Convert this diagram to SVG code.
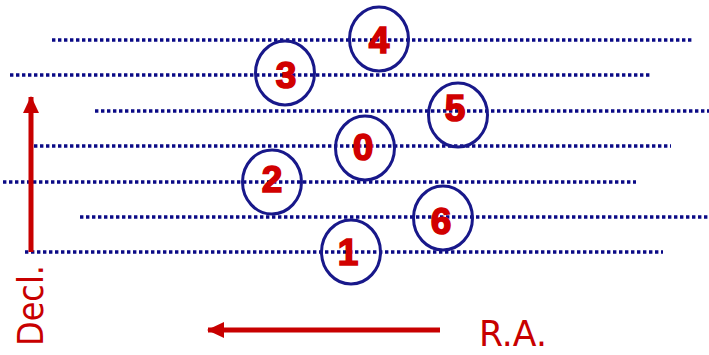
<svg xmlns="http://www.w3.org/2000/svg" width="709" height="355" viewBox="0 0 709 355">
<style>
.dot{stroke:#0a0a86;stroke-width:3.4;stroke-dasharray:3.4 2.6;fill:none}
.ring{fill:none;stroke:#18188a;stroke-width:3}
.num{font-family:"Liberation Sans",Arial,sans-serif;font-weight:bold;font-size:37px;fill:#d10000;stroke:#d10000;stroke-width:1.6;text-anchor:middle}
.lab{font-family:"DejaVu Sans","Liberation Sans",sans-serif;font-size:36px;fill:#c80000}
.arr{stroke:#c80000;stroke-width:5;fill:none}
</style>
<defs>
<marker id="ah" markerWidth="18" markerHeight="18" viewBox="0 0 18 18" refX="16" refY="9" orient="auto" markerUnits="userSpaceOnUse">
<path d="M0,1 L17,9 L0,17 Z" fill="#c80000"/>
</marker>
</defs>
<rect width="709" height="355" fill="#ffffff"/>
<g id="lines">
<line class="dot" x1="52" y1="40" x2="692" y2="40"/>
<line class="dot" x1="10" y1="75" x2="650" y2="75"/>
<line class="dot" x1="95" y1="111" x2="709" y2="111"/>
<line class="dot" x1="34" y1="146" x2="671" y2="146"/>
<line class="dot" x1="3" y1="182" x2="636" y2="182"/>
<line class="dot" x1="80" y1="217" x2="709" y2="217"/>
<line class="dot" x1="25" y1="252" x2="663" y2="252"/>
</g>
<g id="n4"><ellipse class="ring" cx="379" cy="39" rx="29.5" ry="32"/><text class="num" x="379" y="53">4</text></g>
<g id="n3"><ellipse class="ring" cx="285" cy="73" rx="29.5" ry="32"/><text class="num" x="286" y="88">3</text></g>
<g id="n5"><ellipse class="ring" cx="458" cy="115" rx="29.5" ry="32"/><text class="num" x="455" y="121">5</text></g>
<g id="n0"><ellipse class="ring" cx="365" cy="148" rx="29.5" ry="32"/><text class="num" x="363" y="160">0</text></g>
<g id="n2"><ellipse class="ring" cx="272" cy="182" rx="29.5" ry="32"/><text class="num" x="272" y="192">2</text></g>
<g id="n6"><ellipse class="ring" cx="443" cy="218" rx="29.5" ry="32"/><text class="num" x="441" y="234">6</text></g>
<g id="n1"><ellipse class="ring" cx="351" cy="252" rx="29.5" ry="32"/><text class="num" x="348" y="265">1</text></g>
<g id="connectors">
<line class="arr" x1="31" y1="252" x2="31" y2="97" marker-end="url(#ah)"/>
<line class="arr" x1="440" y1="330" x2="208" y2="330" marker-end="url(#ah)"/>
</g>
<g id="labels">
<text class="lab" transform="translate(43,346) rotate(-90)" textLength="81" lengthAdjust="spacingAndGlyphs">Decl.</text>
<text class="lab" x="479" y="346" textLength="68" lengthAdjust="spacingAndGlyphs">R.A.</text>
</g>
</svg>
